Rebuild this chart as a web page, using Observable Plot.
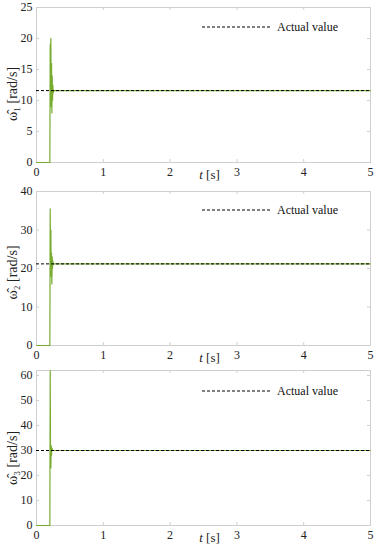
<!DOCTYPE html>
<html><head><meta charset="utf-8">
<script src="https://cdn.jsdelivr.net/npm/d3@7"></script>
<script src="https://cdn.jsdelivr.net/npm/@observablehq/plot@0.6"></script>
<style>
body{margin:0;background:#fff}
#chart{position:relative;width:376px;height:550px;font-family:"Liberation Serif",serif}
.panel{position:absolute;left:0;width:376px}
.panel svg{overflow:visible;display:block;font-family:"Liberation Serif",serif !important}
.panel svg text{font-family:"Liberation Serif",serif}
.legend{position:absolute;left:202px;display:flex;align-items:center;font-size:12px;color:#111;line-height:14px;white-space:nowrap}
.legend span{margin-left:6px}
</style></head><body><div id="chart"></div>
<script>
// ---- data ----
const timeTicks = [0, 1, 2, 3, 4, 5];
const yTicks1 = [0, 5, 10, 15, 20, 25];
const yTicks2 = [0, 10, 20, 30, 40];
const yTicks3 = [0, 10, 20, 30, 40, 50, 60];
const yMax = [25, 40, 62];
const actualValues = [11.6, 21.2, 30];
const yLabels = ["ω̂₁ [rad/s]", "ω̂₂ [rad/s]", "ω̂₃ [rad/s]"];
const legendLabel = "Actual value";
const xLabel = "t [s]";

const time1  = [0, 0.2, 0.205, 0.21, 0.215, 0.22, 0.225, 0.23, 0.235, 0.24, 0.245, 0.25, 0.26, 5];
const omega1 = [0, 0,   19,    17.5, 20,    9,    16,    8,    14,    10,   12.5,  11.2, 11.6, 11.6];
const time2  = [0, 0.2, 0.205, 0.21, 0.215, 0.22, 0.225, 0.23, 0.235, 0.24, 0.245, 0.25, 0.26, 5];
const omega2 = [0, 0,   35.5,  22,   30,    18,   24,    16,   23,    20,   22,    21,   21.2, 21.2];
const time3  = [0, 0.2, 0.205, 0.21, 0.215, 0.22, 0.225, 0.23, 0.24, 5];
const omega3 = [0, 0,   62,    28,   23,    32,   28,    31,   30,   30];

const series = [
  {t: time1, v: omega1, ticks: yTicks1},
  {t: time2, v: omega2, ticks: yTicks2},
  {t: time3, v: omega3, ticks: yTicks3}
];

// ---- layout / style ----
const layout = [
  {top: 0,   height: 183, marginTop: 7, marginBottom: 21, legendDy: 20, labelDy: 9},
  {top: 183, height: 183, marginTop: 8, marginBottom: 21, legendDy: 19, labelDy: 4},
  {top: 366, height: 184, marginTop: 4, marginBottom: 25, legendDy: 21, labelDy: 10}
];
const W = 376, ML = 36, MR = 6;
const green = "#77ac30";
const frameColor = "#cfcfcf";
const textColor = "#222";
const font = "Liberation Serif";

const chart = document.getElementById("chart");

series.forEach((s, i) => {
  const L = layout[i];
  const innerH = L.height - L.marginTop - L.marginBottom;
  const innerW = W - ML - MR;
  const data = s.t.map((t, j) => ({t, v: s.v[j]}));
  const svg = Plot.plot({
    width: W, height: L.height,
    marginLeft: ML, marginRight: MR, marginTop: L.marginTop, marginBottom: L.marginBottom,
    style: {fontFamily: font, fontSize: "12px", color: textColor, background: "white", overflow: "visible"},
    x: {domain: [0, 5], label: null},
    y: {domain: [0, yMax[i]], label: null},
    marks: [
      Plot.frame({stroke: frameColor}),
      Plot.tickX(timeTicks, {x: d => d, stroke: frameColor, insetTop: innerH - 3}),
      Plot.tickX(timeTicks, {x: d => d, stroke: frameColor, insetBottom: innerH - 3}),
      Plot.tickY(s.ticks, {y: d => d, stroke: frameColor, insetRight: innerW - 3}),
      Plot.tickY(s.ticks, {y: d => d, stroke: frameColor, insetLeft: innerW - 3}),
      Plot.axisX({ticks: timeTicks, tickFormat: d3.format("d"), tickSize: 0, tickPadding: 5, label: null, fill: textColor, fontSize: 12, fontFamily: font}),
      Plot.axisY({ticks: s.ticks, tickFormat: d3.format("d"), tickSize: 0, tickPadding: 4, label: null, fill: textColor, fontSize: 12, fontFamily: font}),
      Plot.line(data, {x: "t", y: "v", stroke: green, strokeWidth: 1.2}),
      Plot.ruleY([actualValues[i]], {stroke: "#000", strokeWidth: 1, strokeDasharray: "3,2"}),
      Plot.text([yLabels[i]], {frameAnchor: "left", textAnchor: "middle", rotate: -90, dx: -24, dy: L.labelDy, fontSize: 14, fill: textColor, fontFamily: font}),
      Plot.text([xLabel], {frameAnchor: "bottom", dy: 16, dx: 6, fontSize: 13, fill: textColor, fontFamily: font})
    ]
  });
  // italic t in axis label
  d3.select(svg).selectAll("text").filter(function() { return this.textContent === xLabel; })
    .each(function() {
      const el = d3.select(this);
      el.text(null);
      el.append("tspan").attr("font-style", "italic").text("t");
      el.append("tspan").text(" [s]");
    });
  const panel = document.createElement("div");
  panel.className = "panel";
  panel.style.top = L.top + "px";
  panel.appendChild(svg);
  const leg = document.createElement("div");
  leg.className = "legend";
  leg.style.top = (L.marginTop + L.legendDy - 7) + "px";
  leg.innerHTML = `<svg width="69" height="4" style="overflow:visible"><line x1="0" x2="69" y1="2" y2="2" stroke="#000" stroke-width="1" stroke-dasharray="3,2"/></svg><span>${legendLabel}</span>`;
  panel.appendChild(leg);
  chart.appendChild(panel);
});
</script>
</body></html>
